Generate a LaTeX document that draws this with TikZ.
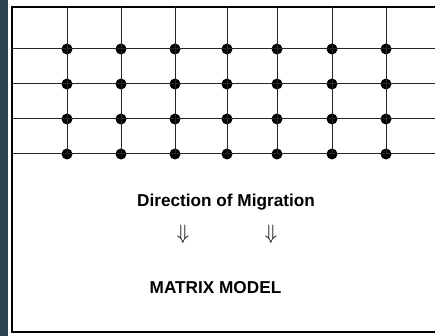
\documentclass[tikz,border=0pt]{standalone}
\usepackage{fontspec}
\setmainfont{Liberation Sans}
\definecolor{strip}{HTML}{2E4350}
\begin{document}
\begin{tikzpicture}[x=1pt,y=-1pt,
  dot/.style={circle,fill=black,inner sep=0pt,minimum size=11pt},
  gridline/.style={line width=1pt,draw=black!85},
  framebox/.style={line width=2.2pt,draw=black},
  lbl/.style={font=\bfseries\fontsize{17.2}{20}\selectfont,inner sep=0pt},
  arr/.style={font=\fontsize{21}{24}\selectfont,inner sep=0pt}]
\useasboundingbox (0,0) rectangle (435,336);
\fill[white] (0,0) rectangle (435,336);
\fill[strip] (0,0) rectangle (8,336);
% frame (open at right, cropped)
\coordinate (ftr) at (436,7);
\coordinate (ftl) at (12,7);
\coordinate (fbl) at (12,332);
\coordinate (fbr) at (436,332);
\draw[framebox] (ftr) -- (ftl) -- (fbl) -- (fbr);
% dots
\foreach \x [count=\i] in {67,121,175,227,277,332,386}{
  \coordinate (t\i) at (\x,7);
  \foreach \y [count=\j] in {49,84,119,154}{
    \node[dot] (d\i-\j) at (\x,\y) {};
  }
}
\foreach \y [count=\j] in {49,84,119,154}{
  \coordinate (l\j) at (12,\y);
  \coordinate (r\j) at (435,\y);
  \draw[gridline] (l\j) -- (r\j);
}
\foreach \i in {1,...,7}{
  \draw[gridline] (t\i) -- (d\i-4.center);
}
\node[lbl] (dir) at (226,202) {Direction of Migration};
\node[arr] (a1) at (183,234) {$\Downarrow$};
\node[arr] (a2) at (271,234) {$\Downarrow$};
\node[lbl] (mm) at (215.5,288) {MATRIX MODEL};
\end{tikzpicture}
\end{document}
